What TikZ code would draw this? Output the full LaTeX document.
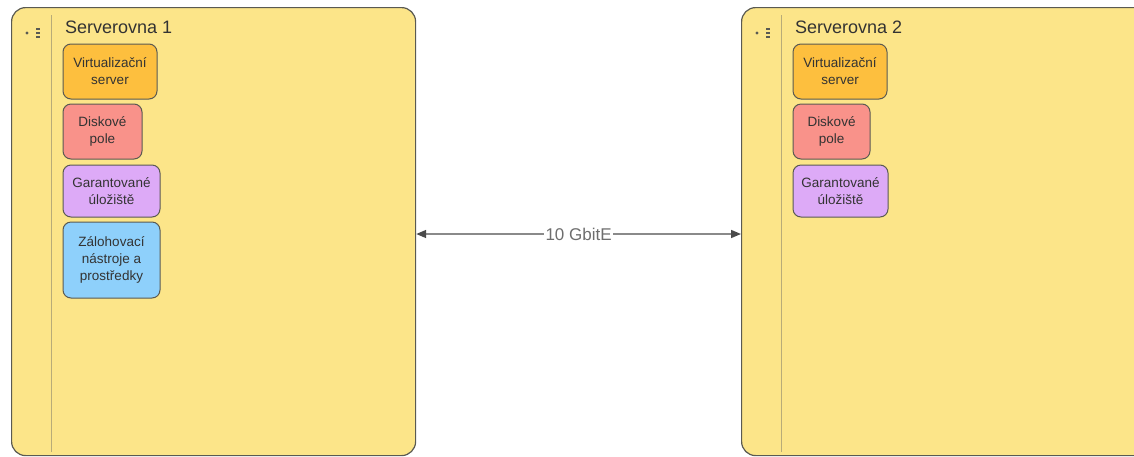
\documentclass[tikz,border=0pt]{standalone}
\usepackage{fontspec}
\setmainfont{Liberation Sans}
\usetikzlibrary{arrows.meta}

\definecolor{roomfill}{HTML}{FCE589}
\definecolor{roomline}{HTML}{5A5A52}
\definecolor{divline}{HTML}{B8AC78}
\definecolor{txt}{HTML}{333333}
\definecolor{virtfill}{HTML}{FDBF3E}
\definecolor{diskfill}{HTML}{F9928A}
\definecolor{garfill}{HTML}{DDAAF7}
\definecolor{backfill}{HTML}{8ED0FB}
\definecolor{linkgray}{HTML}{8A8A8A}
\definecolor{tipgray}{HTML}{4A4A4A}
\definecolor{labelgray}{HTML}{6E6E6E}

\tikzset{
  room/.style={draw=roomline, line width=1.2pt, fill=roomfill, rounded corners=14pt,
    inner sep=0pt, anchor=north west},
  divider/.style={draw=divline, line width=1pt},
  roomtitle/.style={anchor=base west, inner sep=0pt, text=txt,
    font=\fontsize{18}{21}\selectfont},
  item/.style={draw=roomline, line width=1pt, rounded corners=8pt, inner sep=0pt,
    align=center, text=txt, font=\fontsize{13.5}{17}\selectfont},
  link/.style={draw=linkgray, line width=1.5pt,
    {Triangle[length=10pt,width=8pt,color=tipgray]}-{Triangle[length=10pt,width=8pt,color=tipgray]}},
  linklabel/.style={fill=white, inner sep=1.5pt, text=labelgray,
    font=\fontsize{17}{20}\selectfont},
  icon/.style={fill=roomline, draw=none},
}

\begin{document}
\begin{tikzpicture}[x=1pt, y=-1pt]
\useasboundingbox (0,0) rectangle (1134,456);
\clip (0,0) rectangle (1134,456);

% server rooms
\node[room, minimum width=404pt, minimum height=448pt] (room1) at (11,7) {};
\node[room, minimum width=430pt, minimum height=448pt] (room2) at (741,7) {};

% side strips with the menu icon
\foreach \ox in {0,730}{
  \draw[divider] (51+\ox,15) -- (51+\ox,452);
  \fill[icon] (27+\ox,33) circle (1.7pt);
  \foreach \oy in {29,33,37}
    \fill[icon] (36+\ox,\oy-0.8) rectangle (40+\ox,\oy+0.8);
}

\node[roomtitle] (title1) at (65,33) {Serverovna 1};
\node[roomtitle] (title2) at (795,33) {Serverovna 2};

% contents of room 1
\node[item, fill=virtfill, minimum width=94pt, minimum height=55pt] (virt1) at (110,71.5) {Virtualizační\\server};
\node[item, fill=diskfill, minimum width=79pt, minimum height=55pt] (disk1) at (102.5,131.5) {Diskové\\pole};
\node[item, fill=garfill, minimum width=97pt, minimum height=52pt] (gar1) at (111.5,191) {Garantované\\úložiště};
\node[item, fill=backfill, minimum width=97pt, minimum height=76pt] (back1) at (111.5,260) {Zálohovací\\nástroje a\\prostředky};

% contents of room 2
\node[item, fill=virtfill, minimum width=94pt, minimum height=55pt] (virt2) at (840,71.5) {Virtualizační\\server};
\node[item, fill=diskfill, minimum width=77pt, minimum height=55pt] (disk2) at (831.5,131.5) {Diskové\\pole};
\node[item, fill=garfill, minimum width=95pt, minimum height=52pt] (gar2) at (840.5,191) {Garantované\\úložiště};

% interconnect
\draw[link] (room1.east |- 0,234) -- node[linklabel] (speed) {10 GbitE} (room2.west |- 0,234);
\end{tikzpicture}
\end{document}
